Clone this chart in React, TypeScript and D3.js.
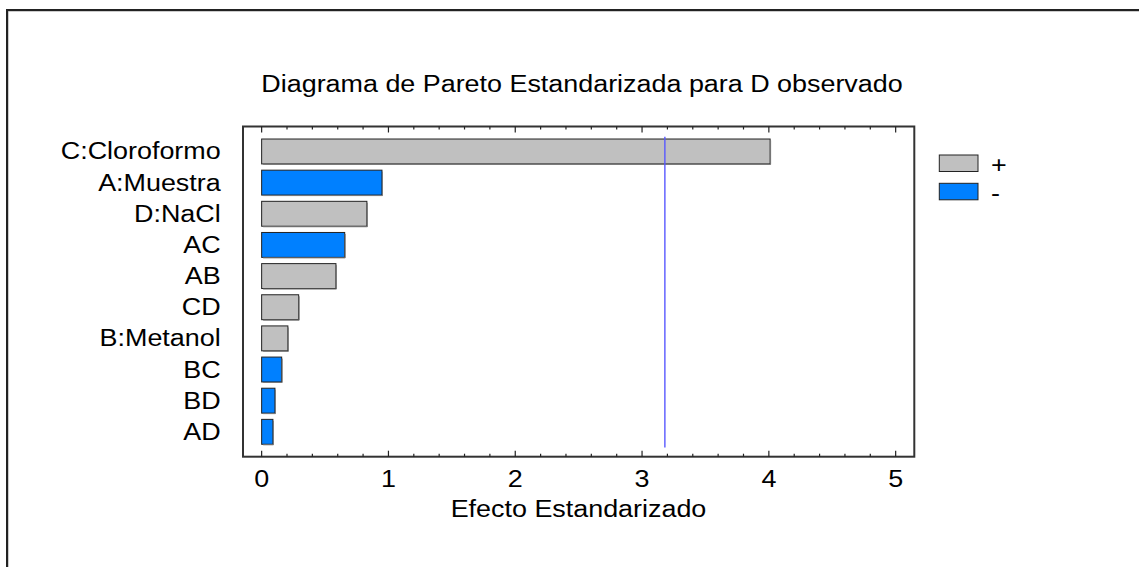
import React from "react";
import * as d3 from "d3";

// Standardized Pareto chart data
const FACTORS = ["C:Cloroformo", "A:Muestra", "D:NaCl", "AC", "AB", "CD", "B:Metanol", "BC", "BD", "AD"];
const EFFECTS = [4.01, 0.949, 0.83, 0.655, 0.586, 0.292, 0.207, 0.158, 0.105, 0.089];
const SIGNS = ["+", "-", "+", "-", "+", "+", "+", "-", "-", "-"];
const X_TICKS = [0, 1, 2, 3, 4, 5];
const CRITICAL = 3.18;
const LEGEND = ["+", "-"];

const TITLE = "Diagrama de Pareto Estandarizada para D observado";
const X_TITLE = "Efecto Estandarizado";

const W = 1139;
const H = 567;
const FONT = "'Liberation Sans', Arial, Helvetica, sans-serif";
const FS = 23;
const SX = 1.17; // horizontal stretch of the text glyphs

const COLORS: Record<string, string> = { "+": "#c0c0c0", "-": "#0080ff" };

const frame = { left: 243, top: 126.5, right: 914.3, bottom: 456.7 };

export default function App() {
  const x = d3.scaleLinear().domain([-0.147, 5.147]).range([frame.left, frame.right]);
  const y = d3
    .scaleBand<string>()
    .domain(FACTORS)
    .range([135.9, 447.4])
    .paddingInner(0.2)
    .paddingOuter(0.1);

  const minor = d3.range(0, 5.0001, 0.2).filter((v) => Math.abs(v - Math.round(v)) > 1e-6);

  const Txt = (props: { x: number; y: number; anchor: string; children: React.ReactNode }) => (
    <text
      transform={`translate(${props.x},${props.y}) scale(${SX},1)`}
      textAnchor={props.anchor}
      fontFamily={FONT}
      fontSize={FS}
      fill="#000"
    >
      {props.children}
    </text>
  );

  return (
    <svg width={W} height={H} style={{ position: "absolute", left: 0, top: 0 }} xmlns="http://www.w3.org/2000/svg">
      <rect x={0} y={0} width={W} height={H} fill="#fff" />
      {/* outer border */}
      <rect x={8} y={11} width={W + 20} height={H + 20} fill="none" stroke="#9a9a9a" strokeWidth={1} />
      <rect x={7} y={10} width={W + 20} height={H + 20} fill="none" stroke="#222" strokeWidth={2} />

      <Txt x={582} y={91.7} anchor="middle">{TITLE}</Txt>

      {/* bars */}
      {FACTORS.map((f, i) => {
        const y0 = y(f)!;
        const bw = y.bandwidth();
        const x0 = x(0);
        const x1 = x(EFFECTS[i]);
        return (
          <g key={f}>
            <rect x={x0} y={y0} width={x1 - x0} height={bw} fill={COLORS[SIGNS[i]]} stroke="#222" strokeWidth={1} />
            <polyline
              points={`${x0 + 1},${y0 + bw} ${x1},${y0 + bw} ${x1},${y0 + 1}`}
              fill="none"
              stroke="#777"
              strokeWidth={1}
              transform="translate(0.5,0.5)"
            />
          </g>
        );
      })}

      {/* category labels */}
      {FACTORS.map((f) => (
        <Txt key={f} x={220.7} y={y(f)! + y.bandwidth() / 2 + 8} anchor="end">
          {f}
        </Txt>
      ))}

      {/* critical value line */}
      <line x1={x(CRITICAL)} x2={x(CRITICAL)} y1={136.7} y2={447.5} stroke="#5858ff" strokeWidth={1.4} />

      {/* plot frame */}
      <rect
        x={frame.left}
        y={frame.top}
        width={frame.right - frame.left}
        height={frame.bottom - frame.top}
        fill="none"
        stroke="#333"
        strokeWidth={2}
      />

      {/* ticks top and bottom */}
      {X_TICKS.map((t) => (
        <g key={"M" + t}>
          <line x1={x(t)} x2={x(t)} y1={frame.top} y2={frame.top + 6} stroke="#222" strokeWidth={1.2} />
          <line x1={x(t)} x2={x(t)} y1={frame.bottom} y2={frame.bottom - 6} stroke="#222" strokeWidth={1.2} />
        </g>
      ))}
      {minor.map((t) => (
        <g key={"m" + t}>
          <line x1={x(t)} x2={x(t)} y1={frame.top} y2={frame.top + 3} stroke="#222" strokeWidth={1.2} />
          <line x1={x(t)} x2={x(t)} y1={frame.bottom} y2={frame.bottom - 3} stroke="#222" strokeWidth={1.2} />
        </g>
      ))}

      {/* tick labels */}
      {X_TICKS.map((t) => (
        <Txt key={"l" + t} x={x(t)} y={487.3} anchor="middle">
          {d3.format("d")(t)}
        </Txt>
      ))}

      <Txt x={578.5} y={517.3} anchor="middle">{X_TITLE}</Txt>

      {/* legend */}
      {LEGEND.map((s, i) => (
        <g key={s}>
          <rect x={939.3} y={155 + i * 28.3} width={38.7} height={16.5} fill={COLORS[s]} stroke="#222" strokeWidth={1} />
          <Txt x={991} y={173 + i * 28.3} anchor="start">
            {s}
          </Txt>
        </g>
      ))}
    </svg>
  );
}
